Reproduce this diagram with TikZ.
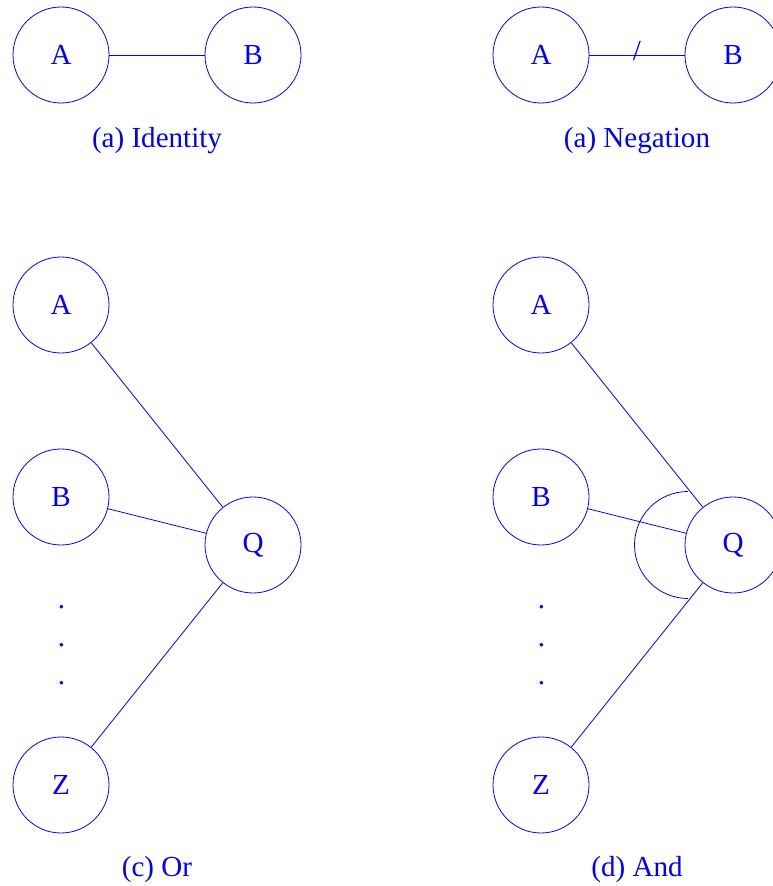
\documentclass[tikz,border=0pt]{standalone}
\usepackage{fontspec}
\setmainfont{Liberation Serif}
\usepackage{tikz}
\tikzstyle{unit}=[circle, draw=blue, text=blue, line width=0.6pt, minimum size=72pt, inner sep=0pt]
\tikzstyle{caption}=[text=blue, anchor=base, inner sep=0pt]
\tikzstyle{dot}=[text=blue, inner sep=0pt]
\tikzstyle{link}=[draw=blue, line width=0.6pt]

\begin{document}
\begin{tikzpicture}[x=0.75pt, y=0.75pt, font=\fontsize{21.8}{26}\selectfont]
\useasboundingbox (0,0) rectangle (773,886);
% identity
\node[unit] (a0) at (61,831){A};
\node[unit] (b0) at (253,831){B};
\draw[link](a0) -- (b0);
\node[caption] (cap0) at (157,738){(a) Identity};
% negation
\node[unit] (a1) at (541,831){A};
\node[unit] (b1) at (733,831){B};
\draw[link](a1) -- node[dot, yshift=2.6pt]{/} (b1);
\node[caption] (cap1) at (637,738){(a) Negation};
% or
\node[unit] (a2) at (61,581){A};
\node[unit] (b2) at (61,389){B};
\node[unit] (z2) at (61,101){Z};
\node[unit] (q2) at (253,341){Q};
\node[dot] (d2a) at (61.5,279){.};
\node[dot] (d2b) at (61.5,241){.};
\node[dot] (d2c) at (61.5,203){.};
\draw[link](a2) -- (q2);
\draw[link](b2) -- (q2);
\draw[link](z2) -- (q2);
\node[caption] (cap2) at (157,9){(c) Or};
% and
\node[unit] (a3) at (541,581){A};
\node[unit] (b3) at (541,389){B};
\node[unit] (z3) at (541,101){Z};
\node[unit] (q3) at (733,341){Q};
\node[dot] (d3a) at (541.5,279){.};
\node[dot] (d3b) at (541.5,241){.};
\node[dot] (d3c) at (541.5,203){.};
\draw[link](a3) -- (q3);
\draw[link](b3) -- (q3);
\draw[link](z3) -- (q3);
\draw[link](q3.center) ++(-45,53.5) arc[start angle=90, end angle=270, radius=53.5];
\node[caption] (cap3) at (637,9){(d) And};
\end{tikzpicture}
\end{document}
